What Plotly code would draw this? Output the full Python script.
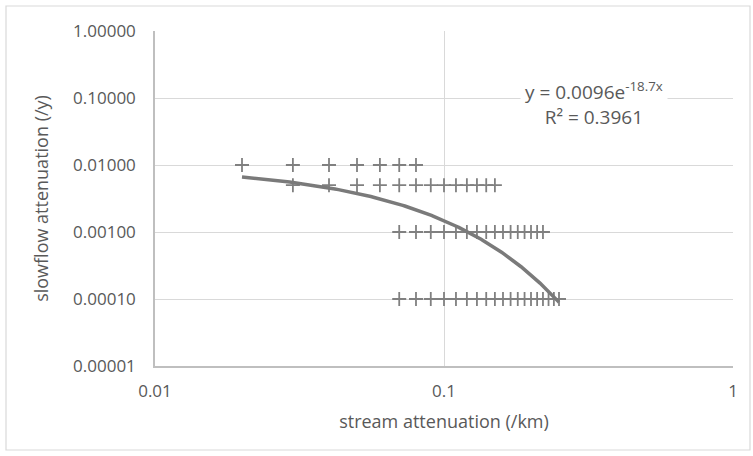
import numpy as np
import plotly.graph_objects as go

# Data
row1_x = [0.02, 0.03, 0.04, 0.05, 0.06, 0.07, 0.08]
row1_y = 0.01
row2_x = [0.03, 0.04, 0.05, 0.06, 0.07, 0.08, 0.09, 0.10, 0.11, 0.12, 0.13, 0.14, 0.15]
row2_y = 0.005
row3_x = [0.07, 0.08, 0.09, 0.10, 0.11, 0.12, 0.13, 0.14, 0.15, 0.16, 0.17, 0.18, 0.19, 0.20, 0.21, 0.22]
row3_y = 0.001
row4_x = [0.07, 0.08, 0.09, 0.10, 0.11, 0.12, 0.13, 0.14, 0.15, 0.16, 0.17, 0.18, 0.19, 0.20, 0.21, 0.22, 0.23, 0.24, 0.25]
row4_y = 0.0001

trend_a = 0.0096
trend_b = -18.7
trend_xmin = 0.02
trend_xmax = 0.25

y_tickvals = [0.00001, 0.0001, 0.001, 0.01, 0.1, 1.0]
y_ticktext = ["0.00001", "0.00010", "0.00100", "0.01000", "0.10000", "1.00000"]
x_tickvals = [0.01, 0.1, 1]
x_ticktext = ["0.01", "0.1", "1"]

xs = row1_x + row2_x + row3_x + row4_x
ys = [row1_y] * len(row1_x) + [row2_y] * len(row2_x) + [row3_y] * len(row3_x) + [row4_y] * len(row4_x)

tx = np.linspace(trend_xmin, trend_xmax, 200)
ty = trend_a * np.exp(trend_b * tx)

FONT = "Open Sans"
TXT = "#595959"
GRID = "#d9d9d9"
AXIS = "#bfbfbf"

fig = go.Figure()
fig.add_trace(go.Scatter(
    x=xs, y=ys, mode="markers",
    marker=dict(symbol="cross-thin-open", size=10, color="#808080",
                line=dict(width=1.8, color="#808080")),
    showlegend=False, hoverinfo="x+y"))
fig.add_trace(go.Scatter(
    x=tx, y=ty, mode="lines",
    line=dict(color="#7a7a7a", width=3.5),
    showlegend=False))

fig.update_layout(
    width=753, height=456,
    margin=dict(l=155, r=20, t=31, b=90, autoexpand=False),
    paper_bgcolor="white", plot_bgcolor="white",
    font=dict(family=FONT, size=16, color=TXT),
    xaxis=dict(type="log", range=[-2, 0], tickvals=x_tickvals, ticktext=x_ticktext,
               showgrid=True, gridcolor=GRID, gridwidth=1,
               showline=True, linecolor=AXIS, linewidth=1.5,
               ticks="outside", ticklen=9, tickcolor="rgba(0,0,0,0)",
               tickfont=dict(family=FONT, size=17, color=TXT),
               zeroline=False,
               title=dict(text="stream attenuation (/km)", standoff=14,
                          font=dict(family=FONT, size=18, color=TXT))),
    yaxis=dict(type="log", range=[-5, 0], tickvals=y_tickvals, ticktext=y_ticktext,
               showgrid=True, gridcolor=GRID, gridwidth=1,
               showline=True, linecolor=AXIS, linewidth=1.5,
               ticks="outside", ticklen=14, tickcolor="rgba(0,0,0,0)",
               tickfont=dict(family=FONT, size=17, color=TXT),
               zeroline=False,
               title=dict(text="slowflow attenuation (/y)", standoff=20,
                          font=dict(family=FONT, size=18, color=TXT))),
    shapes=[dict(type="rect", xref="paper", yref="paper",
                 x0=-0.2578, x1=1.0294, y0=-0.2507, y1=1.0746,
                 line=dict(color=GRID, width=1.2), fillcolor="rgba(0,0,0,0)", layer="below")],
    annotations=[dict(xref="paper", yref="paper", x=0.76, y=0.785,
                      xanchor="center", yanchor="middle",
                      text="y = 0.0096e<sup>-18.7x</sup><br>R² = 0.3961",
                      showarrow=False, align="center", bgcolor="white",
                      font=dict(family=FONT, size=19, color=TXT),
                      borderpad=4)],
)

fig.write_html("out.html")
